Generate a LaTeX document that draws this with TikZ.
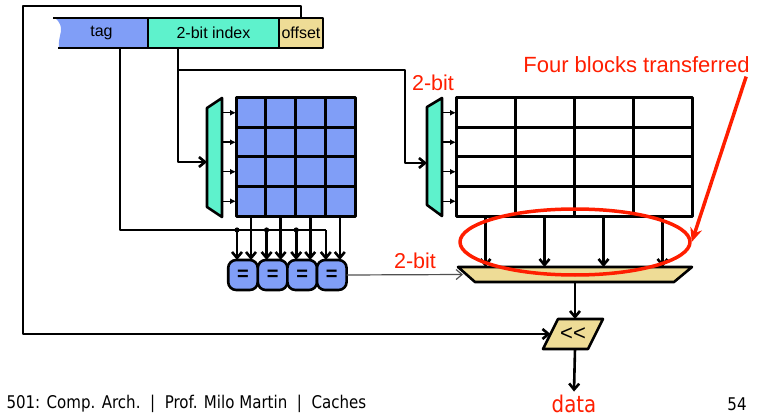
\documentclass[tikz,border=0pt]{standalone}
\usepackage{fontspec}
\setmainfont{Liberation Sans}
\newfontfamily\slidefont[FakeStretch=0.86]{DejaVu Sans}
\usetikzlibrary{positioning,calc,arrows.meta,shapes.geometric,backgrounds}
\definecolor{blockblue}{RGB}{128,158,247}
\definecolor{indexteal}{RGB}{94,242,204}
\definecolor{offtan}{RGB}{238,220,150}
\definecolor{annred}{RGB}{255,30,0}
\definecolor{wiregray}{RGB}{80,80,80}
\tikzset{
  wire/.style={line width=2.6pt},
  tickarrow/.style={line width=1.5pt,-{Latex[length=6pt,width=6pt]}},
  field/.style={draw, line width=2.6pt, minimum height=30pt, inner sep=0pt, outer sep=0pt, font=\fontsize{16}{18}\selectfont},
  cellgrid/.style={draw, line width=3pt, inner sep=0pt, outer sep=0pt},
  decoder/.style={draw, line width=2.6pt, fill=indexteal},
  cmp/.style={draw, line width=2.6pt, rounded corners=8pt, fill=blockblue, minimum width=29.6pt, minimum height=30pt, inner sep=0pt, outer sep=0pt, font=\bfseries\fontsize{20}{20}\selectfont},
  tanbox/.style={inner sep=0pt, outer sep=0pt},
  tanshape/.style={draw, line width=2.6pt, fill=offtan},
  redlabel/.style={text=annred, font=\fontsize{21.5}{23}\selectfont},
}
\begin{document}
\begin{tikzpicture}[x=1pt,y=-1pt, line join=round, >={Straight Barb[length=6pt,width=10pt]}]
\useasboundingbox (0,0) rectangle (766,417);

% address fields
\node[field, fill=indexteal, minimum width=131pt] (idx) at (213.5,33) {2-bit index};
\node[field, fill=offtan, minimum width=44pt, right=0pt of idx] (off) {offset};
\node[field, draw=none, minimum width=93pt, left=0pt of idx] (tag) {tag};
\begin{scope}[on background layer]
  \fill[blockblue] (tag.north west) .. controls +(12,10) and +(-2,-12) .. ([xshift=4pt]tag.south west)
    -- (tag.south east) -- (tag.north east) -- cycle;
  \draw[wire] ([xshift=-2pt]tag.north west) -- (tag.north east) ([xshift=3pt]tag.south west) -- (tag.south east);
\end{scope}

% left array: tags
\node[cellgrid, fill=blockblue, minimum width=119pt, minimum height=118pt] (lgrid) at (295.5,157) {};
\foreach \k in {1,2,3}{
  \draw[line width=3pt] ($(lgrid.north west)!\k/4!(lgrid.north east)$) -- ($(lgrid.south west)!\k/4!(lgrid.south east)$);
  \draw[line width=3pt] ($(lgrid.north west)!\k/4!(lgrid.south west)$) -- ($(lgrid.north east)!\k/4!(lgrid.south east)$);
}
\draw[decoder] (207,108) -- (222,98) -- (222,217) -- (207,207) -- cycle;
\coordinate (ldecin) at (207,162);
\foreach \k in {1,3,5,7}
  \draw[tickarrow] ($(lgrid.north west)!\k/8!(lgrid.south west)$) ++(-14,0) -- ++(14,0);

% right array: data
\node[cellgrid, minimum width=236pt, minimum height=118pt] (rgrid) at (574,157) {};
\foreach \k in {1,2,3}{
  \draw[line width=3pt] ($(rgrid.north west)!\k/4!(rgrid.north east)$) -- ($(rgrid.south west)!\k/4!(rgrid.south east)$);
  \draw[line width=3pt] ($(rgrid.north west)!\k/4!(rgrid.south west)$) -- ($(rgrid.north east)!\k/4!(rgrid.south east)$);
}
\draw[decoder] (427,107) -- (442,98) -- (442,216) -- (427,205) -- cycle;
\coordinate (rdecin) at (427,163);
\foreach \k in {1,3,5,7}
  \draw[tickarrow] ($(rgrid.north west)!\k/8!(rgrid.south west)$) ++(-14,0) -- ++(14,0);

% index wires
\draw[wire,->] ([xshift=-35.5pt]idx.south) |- (ldecin);
\draw[wire,->] ([xshift=-35.5pt]idx.south) ++(0,22) -| ([xshift=-22pt]rdecin) -- (rdecin);

% comparators
\node[cmp] (c1) at (243,275) {=};
\node[cmp, right=0pt of c1] (c2) {=};
\node[cmp, right=0pt of c2] (c3) {=};
\node[cmp, right=0pt of c3] (c4) {=};
\coordinate (tbus) at ([xshift=-6pt]c4.north |- 0,230);
\draw[wire] ([xshift=18.5pt]tag.south) |- (tbus);
\foreach \i in {1,...,4}{
  \draw[wire,->] ([xshift=-6pt]c\i.north |- tbus) -- ([xshift=-6pt]c\i.north);
  \draw[wire,->] ([xshift=8pt]c\i.north |- lgrid.south) -- ([xshift=8pt]c\i.north);
}
\foreach \i in {1,2,3}
  \fill ([xshift=-6pt]c\i.north |- tbus) circle (2.6pt);

% block select and shift
\node[tanbox, minimum width=234pt, minimum height=15pt] (mux) at (575,274.5) {};
\draw[tanshape] (mux.north west) -- (mux.north east) -- ([xshift=-18pt]mux.south east) -- ([xshift=17pt]mux.south west) -- cycle;
\node[tanbox, minimum width=60pt, minimum height=30pt] (shl) at (573,334) {};
\draw[tanshape] ([xshift=15pt]shl.north west) -- (shl.north east) -- ([xshift=-15pt]shl.south east) -- (shl.south west) -- cycle;
\node[font=\fontsize{22}{22}\selectfont] at (shl) {<{}<};
\foreach \k in {1,3,5,7}
  \draw[wire,->] ($(rgrid.south west)!\k/8!(rgrid.south east)$) coordinate (col) -- (col |- mux.north);
\draw[line width=1.2pt, wiregray, ->] (c4.east) -- ([xshift=5pt]mux.west);
\draw[wire,->] (mux.south) -- (mux.south |- shl.north);
\draw[wire,->] (off.north) |- (23,6) |- ([xshift=7.5pt]shl.west);
\node[text=annred, font=\slidefont\fontsize{23}{24}\selectfont] (data) at (574,404) {data};
\draw[wire,->] (mux.south |- shl.south) -- (data.north);

% annotations
\node[redlabel] (bitsa) at (433,83) {2-bit};
\node[redlabel] (bitsb) at (415,261) {2-bit};
\node[ellipse, draw=annred, line width=3.5pt, minimum width=230pt, minimum height=66pt, inner sep=0pt] (ring) at (575,242) {};
\node[redlabel, font=\fontsize{22}{24}\selectfont] (blocks) at (636.5,65) {Four blocks transferred};
\draw[annred, line width=3.5pt, -{Stealth[length=14pt,width=12pt]}] ([xshift=-7pt]blocks.south east) -- (ring.east);

% footer
\node[anchor=west, font=\slidefont\fontsize{17.5}{20}\selectfont] (foot) at (3,404) {501: Comp. Arch.\ \ |\ \ Prof. Milo Martin\ \ |\ \ Caches};
\node[font=\slidefont\fontsize{17.5}{20}\selectfont] (page) at (737,404) {54};
\end{tikzpicture}
\end{document}
